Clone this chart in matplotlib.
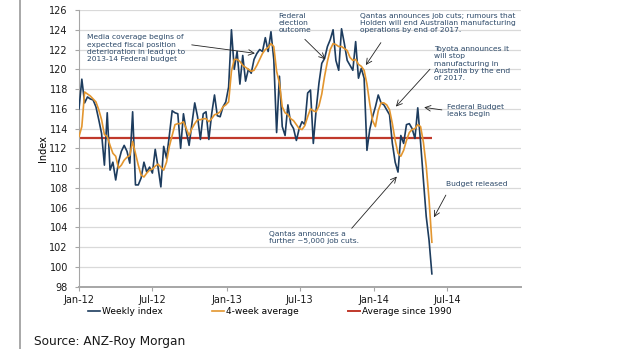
import pandas as pd
import matplotlib.pyplot as plt
from matplotlib.lines import Line2D

# --- Daten ---
weekly_index = [
    116.0, 119.0, 116.6, 117.2, 117.0, 116.9, 116.2, 114.9, 113.5, 110.3,
    115.6, 109.8, 110.6, 108.8, 110.6, 111.7, 112.3, 111.7, 110.5, 115.7,
    108.3, 108.3, 109.0, 110.6, 109.6, 110.1, 109.5, 111.9, 110.1, 108.1,
    112.2, 111.0, 113.3, 115.8, 115.6, 115.5, 112.0, 115.5, 113.7, 112.3,
    114.5, 116.6, 115.2, 112.9, 115.5, 115.7, 112.9, 115.5, 117.4, 115.3,
    115.2, 116.2, 116.7, 118.2, 124.0, 120.0, 121.8, 118.5, 121.4, 118.8,
    120.0, 119.6, 121.0, 121.6, 122.0, 121.8, 123.2, 121.8, 123.8, 121.0,
    113.6, 119.3, 114.2, 113.3, 116.4, 114.5, 114.0, 112.8, 114.0, 114.7,
    114.4, 117.6, 117.9, 112.5, 115.9, 118.6, 120.6, 121.1, 122.3, 123.0,
    124.0, 120.9, 119.9, 124.1, 122.6, 120.9, 120.4, 119.9, 122.8, 119.1,
    120.1, 119.1, 111.8, 113.9, 115.2, 116.2, 117.4, 116.6, 116.4, 115.9,
    115.4, 112.5, 110.6, 109.6, 113.3, 112.5, 114.4, 114.5, 114.0, 113.0,
    116.1, 112.6, 108.8, 105.1, 102.7, 99.3,
]

four_week_avg = [
    113.2, 114.2, 117.7, 117.5, 117.3, 117.0, 116.7, 115.9, 114.9, 113.4,
    113.2, 112.3, 111.5, 111.2, 110.0, 110.3, 110.8, 111.1, 111.3, 112.7,
    111.5, 110.3, 109.3, 109.1, 109.5, 109.8, 109.9, 110.2, 110.4, 110.1,
    109.8, 110.6, 112.2, 113.3, 114.4, 114.5, 114.5, 114.7, 114.0, 113.3,
    114.0, 114.5, 114.9, 114.9, 115.0, 115.0, 114.7, 115.0, 115.4, 115.5,
    115.7, 116.2, 116.4, 116.7, 119.8, 121.0, 121.0, 120.8, 120.4, 120.2,
    120.0, 119.8, 119.9, 120.4, 121.0, 121.6, 122.0, 122.2, 122.6, 122.3,
    119.8, 118.6, 116.2, 115.6, 115.4, 115.0, 114.8, 114.4, 114.0, 113.9,
    114.3, 115.2, 116.0, 115.8, 115.7, 116.3, 117.5, 119.3, 120.8, 122.0,
    122.6, 122.5, 122.3, 122.3, 122.1, 121.9, 121.2, 120.9, 121.0, 120.5,
    120.3, 119.9, 118.5, 116.5, 114.8, 114.2, 115.8, 116.6, 116.6, 116.4,
    115.9, 114.5, 112.8, 111.5, 111.2, 111.8, 112.8, 113.6, 113.9, 114.0,
    114.4, 114.2, 112.6, 110.2, 106.8, 102.5,
]

avg_since_1990 = 113.0
weeks = pd.date_range("2012-01-01", periods=len(weekly_index), freq="7D")
tick_dates = pd.to_datetime(["2012-01-01", "2012-07-01", "2013-01-01",
                             "2013-07-01", "2014-01-01", "2014-07-01"])
tick_labels = ["Jan-12", "Jul-12", "Jan-13", "Jul-13", "Jan-14", "Jul-14"]

# Farben
c_weekly = "#1d3c5e"
c_avg4 = "#e3962f"
c_red = "#c0392b"
c_note = "#2b4868"

fig = plt.figure(figsize=(6.2, 3.49), dpi=100)
ax = fig.add_axes([79 / 620, 1 - 286.7 / 349, 442 / 620, 276.7 / 349])

ax.plot(weeks, weekly_index, color=c_weekly, lw=1.2, zorder=3)
ax.plot(weeks, four_week_avg, color=c_avg4, lw=1.2, zorder=4)
ax.hlines(avg_since_1990, weeks[0], weeks[-1], color=c_red, lw=1.6, zorder=2)

ax.set_ylim(98, 126)
ax.set_yticks(range(98, 127, 2))
ax.set_xlim(pd.Timestamp("2012-01-01"), pd.Timestamp("2015-01-01"))
ax.set_xticks(tick_dates)
ax.set_xticklabels(tick_labels)
ax.grid(axis="y", color="#d9d9d9", lw=0.9)
ax.set_axisbelow(True)
for s in ["top", "right"]:
    ax.spines[s].set_visible(False)
for s in ["left", "bottom"]:
    ax.spines[s].set_color("#a6a6a6")
ax.spines["bottom"].set_linewidth(1.4)
ax.tick_params(axis="both", labelsize=7, length=3, color="#a6a6a6", labelcolor="#1a1a1a")
ax.tick_params(axis="y", pad=5)
ax.tick_params(axis="x", pad=3)
ax.set_ylabel("Index", fontsize=7)
ax.yaxis.set_label_coords(-0.071, 0.5)

# --- Annotationen ---
notes = [
    ("Media coverage begins of\nexpected fiscal position\ndeterioration in lead up to\n2013-14 Federal budget",
     (0.017, 0.912), (0.255, 0.874), (0.398, 0.8435)),
    ("Federal\nelection\noutcome", (0.451, 0.99), (0.511, 0.894), (0.557, 0.822)),
    ("Qantas announces job cuts; rumours that\nHolden will end Australian manufacturing\noperations by end of 2017.",
     (0.636, 0.99), (0.683, 0.882), (0.649, 0.801)),
    ("Toyota announces it\nwill stop\nmanufacturing in\nAustralia by the end\nof 2017.",
     (0.804, 0.869), (0.794, 0.786), (0.717, 0.651)),
    ("Federal Budget\nleaks begin", (0.832, 0.662), (0.821, 0.639), (0.781, 0.648)),
    ("Budget released", (0.830, 0.383), (0.830, 0.331), (0.803, 0.251)),
    ("Qantas announces a\nfurther ~5,000 job cuts.", (0.430, 0.202), (0.617, 0.211), (0.719, 0.398)),
]
for txt, pos, tail, tip in notes:
    ax.text(pos[0], pos[1], txt, transform=ax.transAxes, fontsize=5.4, color=c_note,
            va="top", ha="left", linespacing=1.25)
    ax.annotate("", xy=tip, xytext=tail, xycoords="axes fraction", textcoords="axes fraction",
                arrowprops=dict(arrowstyle="->", color="#222222", lw=0.6, shrinkA=0, shrinkB=0))

# --- Legende ---
handles = [Line2D([], [], color=c_weekly, lw=1.2),
           Line2D([], [], color=c_avg4, lw=1.2),
           Line2D([], [], color=c_red, lw=1.4)]
fig.legend(handles, ["Weekly index", "4-week average", "Average since 1990"],
           loc="center left", bbox_to_anchor=(88 / 620, 1 - 312 / 349), ncol=3,
           frameon=False, fontsize=6.5, handlelength=1.33, handletextpad=0.2,
           columnspacing=5.5, borderpad=0, borderaxespad=0)

fig.text(34 / 620, 1 - 342 / 349, "Source: ANZ-Roy Morgan", fontsize=8.7, color="#1a1a1a",
         va="center", ha="left")
fig.add_artist(Line2D([20 / 620, 20 / 620], [0, 1], transform=fig.transFigure,
                      color="#9a9a9a", lw=1.2))

fig.savefig("out.png", dpi=100)
